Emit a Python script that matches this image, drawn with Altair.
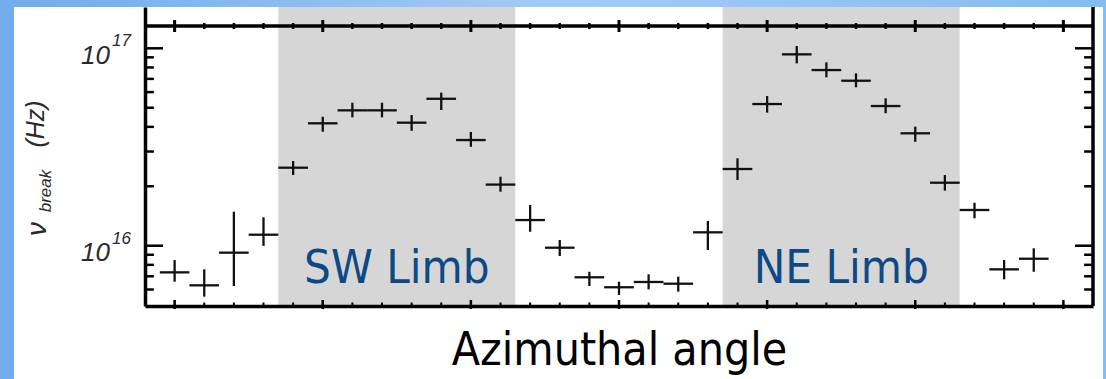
import altair as alt
import pandas as pd

# Azimuthal bins (degrees) and the fitted break frequency, in units of 1e16 Hz
angle_deg = [0, 12, 24, 36, 48, 60, 72, 84, 96, 108, 120, 132, 144, 156, 168,
             180, 192, 204, 216, 228, 240, 252, 264, 276, 288, 300, 312, 324, 336, 348]
nu_break = [0.733, 0.630, 0.922, 1.137, 2.484, 4.17, 4.85, 4.85, 4.20, 5.55,
            3.43, 2.04, 1.349, 0.977, 0.692, 0.616, 0.655, 0.642, 1.169, 2.447,
            5.22, 9.32, 7.76, 6.85, 5.10, 3.71, 2.085, 1.517, 0.759, 0.859]
nu_low = [0.657, 0.552, 0.625, 0.998, 2.281, 3.78, 4.47, 4.47, 3.82, 4.87,
          3.17, 1.878, 1.177, 0.887, 0.625, 0.563, 0.601, 0.585, 0.951, 2.151,
          4.72, 8.39, 7.13, 6.35, 4.69, 3.36, 1.90, 1.377, 0.676, 0.738]
nu_high = [0.846, 0.759, 1.487, 1.393, 2.686, 4.50, 5.30, 5.30, 4.59, 5.96,
           3.77, 2.236, 1.608, 1.069, 0.738, 0.657, 0.716, 0.697, 1.334, 2.772,
           5.73, 10.27, 8.49, 7.47, 5.58, 4.01, 2.28, 1.651, 0.846, 0.970]
bin_half_width = 6

# Limb regions
limb_names = ["SW Limb", "NE Limb"]
limb_start = [42, 222]
limb_end = [138, 318]
limb_center = [90, 270]

# Axis ticks
y_major = [1e16, 1e17]
y_exponent = ["16", "17"]
y_minor = [6e15, 7e15, 8e15, 9e15, 2e16, 3e16, 4e16, 5e16, 6e16, 7e16, 8e16, 9e16]
x_major = [0, 60, 120, 180, 240, 300, 360]
x_minor = [a for a in range(12, 360, 12) if a % 60 != 0]
panel_divider = 1.297e17

X_DOM = [-12, 372]
Y_DOM = [4.95e15, 1.619e17]
W, H = 948, 299

xs = alt.Scale(domain=X_DOM, nice=False, zero=False)
ys = alt.Scale(type="log", domain=Y_DOM, nice=False)

TITLE_FONT = "'DejaVu Sans Condensed', 'Open Sans', sans-serif"
X_AXIS = alt.Axis(
    title="Azimuthal angle", labels=False, ticks=False, grid=False,
    domainColor="black", domainWidth=3.5, zindex=2,
    titleFont=TITLE_FONT, titleFontSize=46, titleFontWeight="normal",
    titleColor="black", titleBaseline="alphabetic", titleX=W / 2, titleY=58,
)
Y_AXIS = alt.Axis(title=None, labels=False, ticks=False, grid=False,
                  domainColor="black", domainWidth=3.5, zindex=2)

pts = pd.DataFrame({
    "angle": angle_deg,
    "nu": [v * 1e16 for v in nu_break],
    "lo": [v * 1e16 for v in nu_low],
    "hi": [v * 1e16 for v in nu_high],
})
limbs = pd.DataFrame({"name": limb_names, "start": limb_start,
                      "end": limb_end, "center": limb_center})

# page background and white card
one = pd.DataFrame({"k": [0]})
bg = alt.Chart(one).mark_rect(
    color=alt.Gradient(
        gradient="linear", x1=0, x2=1, y1=0, y2=0,
        stops=[alt.GradientStop(color="#72abeb", offset=0),
               alt.GradientStop(color="#a2ccf4", offset=0.5),
               alt.GradientStop(color="#86bbf0", offset=1)],
    )
).encode(x=alt.value(-145), x2=alt.value(961), y=alt.value(-7), y2=alt.value(372))
card = alt.Chart(one).mark_rect(color="white").encode(
    x=alt.value(-131), x2=alt.value(958), y=alt.value(0), y2=alt.value(372))

shade = alt.Chart(limbs).mark_rect(color="#d6d6d6").encode(
    x=alt.X("start:Q", scale=xs, axis=X_AXIS), x2="end:Q")

right_edge = alt.Chart(pd.DataFrame({"x": [X_DOM[1]]})).mark_rule(
    color="black", strokeWidth=3.5).encode(x=alt.X("x:Q", scale=xs, axis=X_AXIS))
divider = alt.Chart(pd.DataFrame({"v": [panel_divider]})).mark_rule(
    color="black", strokeWidth=3.5).encode(y=alt.Y("v:Q", scale=ys, axis=Y_AXIS))

# inward y ticks on both vertical axes
MAJOR_LEN, MINOR_LEN = 7.3, 3.6
yt_rows = []
for v in y_major:
    yt_rows += [(v, X_DOM[0], X_DOM[0] + MAJOR_LEN), (v, X_DOM[1], X_DOM[1] - MAJOR_LEN)]
for v in y_minor:
    yt_rows += [(v, X_DOM[0], X_DOM[0] + MINOR_LEN), (v, X_DOM[1], X_DOM[1] - MINOR_LEN)]
yticks = pd.DataFrame(yt_rows, columns=["value", "x0", "x1"])
ytick_layer = alt.Chart(yticks).mark_rule(color="black", strokeWidth=2.5).encode(
    y=alt.Y("value:Q", scale=ys, axis=Y_AXIS),
    x=alt.X("x0:Q", scale=xs, axis=X_AXIS), x2="x1:Q")

# x ticks on the bottom axis and on the panel divider
xmaj = pd.DataFrame({"a": x_major})
xmin = pd.DataFrame({"a": x_minor})


def xtick(df, y0, y1, w):
    return alt.Chart(df).mark_rule(color="black", strokeWidth=w).encode(
        x=alt.X("a:Q", scale=xs, axis=X_AXIS), y=alt.value(y0), y2=alt.value(y1))


xtick_layers = [
    xtick(xmaj, 293, 302, 2.5), xtick(xmin, 295.5, 300.5, 2.0),
    xtick(xmaj, 13, 25, 3.0), xtick(xmin, 16, 22, 2.5),
]

# data crosses
base = alt.Chart(pts)
vbars = base.mark_rule(color="#111111", strokeWidth=2.3).encode(
    x=alt.X("angle:Q", scale=xs, axis=X_AXIS),
    y=alt.Y("lo:Q", scale=ys, axis=Y_AXIS), y2="hi:Q")
hbars = base.transform_calculate(
    a0=f"datum.angle - {bin_half_width}", a1=f"datum.angle + {bin_half_width}"
).mark_rule(color="#111111", strokeWidth=2.3).encode(
    x=alt.X("a0:Q", scale=xs, axis=X_AXIS), x2="a1:Q",
    y=alt.Y("nu:Q", scale=ys, axis=Y_AXIS))

limb_text = alt.Chart(limbs).mark_text(
    font=TITLE_FONT, fontSize=47, color="#0d4a85", align="center",
    baseline="alphabetic").encode(
    x=alt.X("center:Q", scale=xs, axis=X_AXIS), y=alt.value(276), text="name:N")

# y tick labels: 10 with a raised exponent
ylab = pd.DataFrame({"value": y_major, "exp": y_exponent, "base": ["10", "10"]})
ten = alt.Chart(ylab).mark_text(
    font="Liberation Sans", fontStyle="italic", fontSize=26, color="#2a2a2a",
    align="right", baseline="alphabetic", dy=15.5).encode(
    y=alt.Y("value:Q", scale=ys, axis=Y_AXIS), x=alt.value(-35), text="base:N")
expo = alt.Chart(ylab).mark_text(
    font="Liberation Sans", fontStyle="italic", fontSize=17, color="#2a2a2a",
    align="left", baseline="alphabetic", dy=-2).encode(
    y=alt.Y("value:Q", scale=ys, axis=Y_AXIS), x=alt.value(-33), text="exp:N")


# rotated y title: nu_break (Hz)
def ypart(text, size, x, y):
    return alt.Chart(one).mark_text(
        text=text, font="Liberation Sans", fontStyle="italic", fontSize=size,
        color="#2a2a2a", angle=270, align="center", baseline="alphabetic"
    ).encode(x=alt.value(x), y=alt.value(y))


ytitle = [ypart("ν", 28, -99, 222), ypart("break", 17, -94, 184),
          ypart("(Hz)", 25, -101, 117)]

chart = alt.layer(
    bg, card, shade, divider, right_edge, ytick_layer, *xtick_layers,
    vbars, hbars, limb_text, ten, expo, *ytitle,
).properties(
    width=W, height=H,
    padding={"left": 145, "top": 7, "right": 13, "bottom": 73},
    autosize=alt.AutoSizeParams(type="none"),
    background="#8cbdf0",
).configure_view(stroke=None)

chart.save("out.html", embed_options={"renderer": "svg", "actions": False})
